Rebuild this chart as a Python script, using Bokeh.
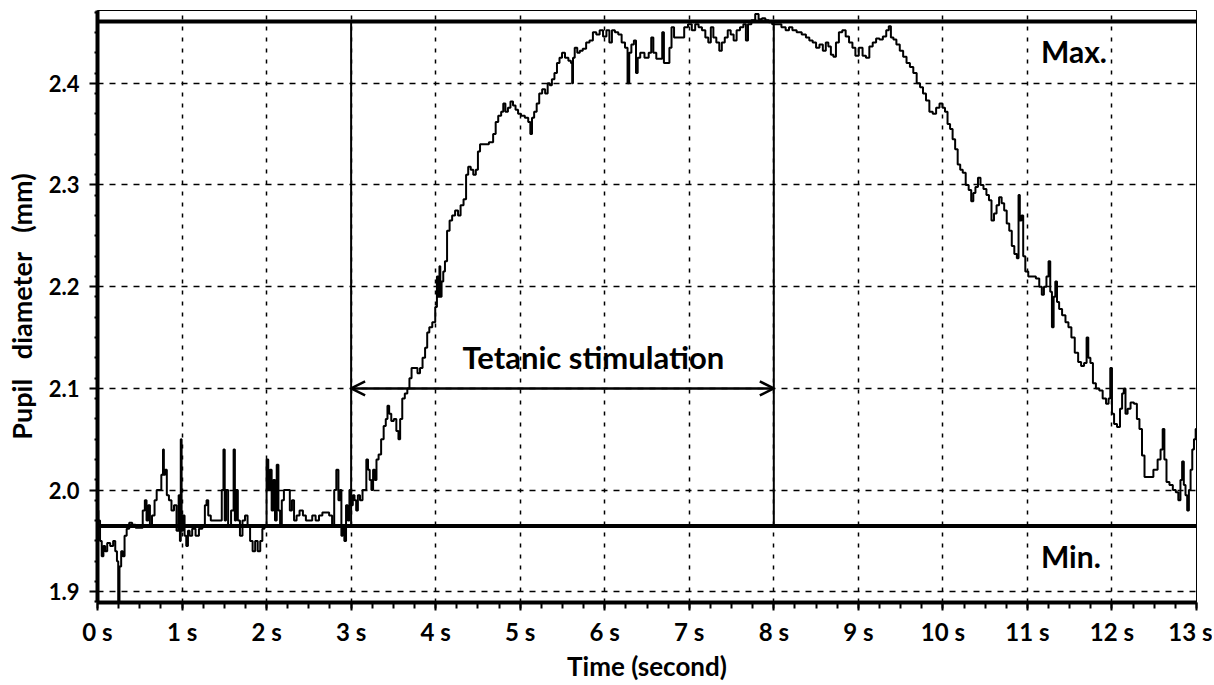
from bokeh.plotting import figure
from bokeh.models import Range1d, FixedTicker, Span, Arrow, OpenHead, Label
from bokeh.embed import file_html
from bokeh.resources import INLINE

# ---------------- data ----------------
# (time in s, pupil diameter in mm)
baseline = [
    (0.00, 1.98), (0.02, 1.97), (0.04, 1.95), (0.06, 1.935), (0.08, 1.945), (0.10, 1.94),
    (0.13, 1.948), (0.17, 1.945), (0.20, 1.95), (0.22, 1.94), (0.24, 1.93), (0.25, 1.89),
    (0.27, 1.925), (0.29, 1.94), (0.31, 1.935), (0.33, 1.955), (0.36, 1.962), (0.39, 1.968),
    (0.43, 1.966), (0.47, 1.963), (0.52, 1.963), (0.55, 1.98), (0.57, 1.99), (0.59, 1.97),
    (0.61, 1.985), (0.63, 1.965), (0.66, 1.975), (0.69, 1.99), (0.71, 2.0), (0.74, 2.0),
    (0.77, 2.015), (0.78, 2.04), (0.79, 2.015), (0.81, 2.02), (0.83, 1.995), (0.86, 1.99),
    (0.89, 1.98), (0.92, 1.985), (0.95, 1.96), (0.97, 1.995), (0.98, 1.95), (0.99, 2.05),
    (1.00, 1.96), (1.02, 1.975), (1.04, 1.955), (1.06, 1.945), (1.08, 1.96), (1.10, 1.955),
    (1.14, 1.962), (1.18, 1.955), (1.22, 1.962), (1.26, 1.965), (1.28, 1.985), (1.30, 1.99),
    (1.32, 1.975), (1.36, 1.97), (1.40, 1.97), (1.46, 1.97), (1.48, 2.0), (1.50, 2.04),
    (1.51, 1.97), (1.53, 2.0), (1.56, 1.965), (1.60, 1.98), (1.62, 2.04), (1.63, 1.97),
    (1.65, 2.0), (1.67, 1.97), (1.70, 1.955), (1.73, 1.97), (1.76, 1.975), (1.79, 1.965),
    (1.82, 1.95), (1.85, 1.94), (1.88, 1.95), (1.91, 1.94), (1.94, 1.95), (1.96, 1.962),
    (1.99, 1.965), (2.01, 2.03), (2.03, 2.0), (2.05, 2.02), (2.07, 1.98), (2.09, 2.01),
    (2.11, 1.97), (2.13, 2.025), (2.15, 1.98), (2.17, 1.965), (2.19, 1.99), (2.22, 2.0),
    (2.26, 2.0), (2.29, 1.98), (2.31, 1.99), (2.34, 1.97), (2.37, 1.975), (2.41, 1.98),
    (2.45, 1.975), (2.48, 1.97), (2.52, 1.97), (2.56, 1.975), (2.60, 1.97), (2.64, 1.975),
    (2.68, 1.978), (2.72, 1.978), (2.76, 1.975), (2.79, 1.965), (2.81, 2.0), (2.84, 2.02),
    (2.86, 1.99), (2.88, 2.0), (2.89, 1.955), (2.91, 1.965), (2.93, 1.95), (2.95, 1.985),
    (2.97, 1.97), (2.99, 2.0), (3.01, 1.985), (3.03, 1.995),
]

rise = [
    (3.05, 1.99), (3.07, 1.98), (3.09, 1.995), (3.12, 1.99), (3.15, 2.0), (3.17, 2.0),
    (3.19, 2.03), (3.21, 2.02), (3.23, 2.01), (3.25, 2.0), (3.27, 2.02), (3.29, 2.01),
    (3.31, 2.03), (3.34, 2.035), (3.37, 2.05), (3.40, 2.063), (3.42, 2.07), (3.44, 2.083),
    (3.46, 2.075), (3.49, 2.068), (3.52, 2.07), (3.55, 2.058), (3.57, 2.05), (3.59, 2.07),
    (3.62, 2.09), (3.65, 2.095), (3.68, 2.10), (3.70, 2.11), (3.73, 2.12), (3.77, 2.12),
    (3.80, 2.115), (3.83, 2.12), (3.86, 2.13), (3.89, 2.14), (3.91, 2.155), (3.94, 2.16),
    (3.98, 2.165), (4.01, 2.18), (4.02, 2.21), (4.04, 2.19), (4.05, 2.22), (4.06, 2.19),
    (4.08, 2.205), (4.10, 2.215), (4.12, 2.225), (4.15, 2.255), (4.18, 2.265), (4.21, 2.27),
    (4.25, 2.275), (4.28, 2.27), (4.31, 2.28), (4.35, 2.286), (4.37, 2.31), (4.40, 2.318),
    (4.43, 2.315), (4.46, 2.31), (4.49, 2.315), (4.51, 2.333), (4.54, 2.34), (4.60, 2.34),
    (4.66, 2.342), (4.70, 2.35), (4.72, 2.362), (4.76, 2.368), (4.79, 2.372), (4.81, 2.38),
    (4.84, 2.372), (4.87, 2.376), (4.90, 2.382), (4.93, 2.378), (4.96, 2.374), (4.99, 2.37),
    (5.03, 2.368), (5.08, 2.366), (5.11, 2.362), (5.13, 2.35), (5.15, 2.366), (5.18, 2.372),
    (5.21, 2.38), (5.24, 2.39), (5.28, 2.394), (5.31, 2.39), (5.34, 2.40), (5.36, 2.398),
    (5.39, 2.404), (5.42, 2.41), (5.45, 2.42), (5.48, 2.425), (5.51, 2.43), (5.55, 2.425),
    (5.59, 2.422), (5.61, 2.42), (5.62, 2.40), (5.63, 2.425), (5.66, 2.435), (5.69, 2.43),
    (5.72, 2.432), (5.76, 2.434), (5.80, 2.44), (5.84, 2.442), (5.88, 2.45), (5.92, 2.448),
]

plateau = [
    (5.96, 2.452), (6.00, 2.446), (6.04, 2.452), (6.07, 2.44), (6.10, 2.452), (6.14, 2.45),
    (6.18, 2.448), (6.22, 2.44), (6.26, 2.435), (6.28, 2.40), (6.30, 2.43), (6.33, 2.438),
    (6.36, 2.442), (6.38, 2.41), (6.40, 2.425), (6.44, 2.43), (6.50, 2.425), (6.54, 2.43),
    (6.56, 2.445), (6.59, 2.43), (6.63, 2.424), (6.67, 2.424), (6.69, 2.45), (6.71, 2.42),
    (6.75, 2.42), (6.78, 2.435), (6.80, 2.455), (6.84, 2.445), (6.88, 2.445), (6.92, 2.445),
    (6.96, 2.455), (7.01, 2.458), (7.05, 2.452), (7.09, 2.458), (7.13, 2.455), (7.17, 2.452),
    (7.21, 2.445), (7.24, 2.44), (7.27, 2.455), (7.30, 2.445), (7.34, 2.44), (7.37, 2.432),
    (7.40, 2.44), (7.44, 2.445), (7.47, 2.452), (7.51, 2.448), (7.54, 2.442), (7.58, 2.452),
    (7.62, 2.455), (7.66, 2.458), (7.68, 2.442), (7.71, 2.458), (7.76, 2.462), (7.80, 2.468),
    (7.84, 2.463), (7.88, 2.464), (7.92, 2.462), (7.96, 2.46), (8.00, 2.458), (8.06, 2.458),
    (8.12, 2.455), (8.16, 2.452), (8.20, 2.455), (8.24, 2.452), (8.30, 2.45), (8.36, 2.448),
    (8.40, 2.445), (8.44, 2.442), (8.48, 2.44), (8.52, 2.435), (8.56, 2.438), (8.60, 2.432),
    (8.63, 2.44), (8.66, 2.436), (8.69, 2.428), (8.72, 2.426), (8.75, 2.44), (8.79, 2.45),
    (8.83, 2.452), (8.87, 2.446), (8.91, 2.44), (8.95, 2.435), (8.98, 2.427), (9.03, 2.435),
    (9.07, 2.427), (9.11, 2.425), (9.15, 2.436), (9.19, 2.44), (9.23, 2.444), (9.27, 2.443),
    (9.31, 2.446), (9.35, 2.452), (9.37, 2.456),
]

decay = [
    (9.40, 2.445), (9.43, 2.443), (9.47, 2.438), (9.51, 2.432), (9.55, 2.426), (9.59, 2.42),
    (9.63, 2.416), (9.67, 2.41), (9.71, 2.40), (9.75, 2.396), (9.78, 2.39), (9.82, 2.383),
    (9.86, 2.372), (9.90, 2.37), (9.94, 2.376), (9.98, 2.38), (10.01, 2.376), (10.04, 2.372),
    (10.07, 2.36), (10.10, 2.355), (10.13, 2.345), (10.16, 2.335), (10.19, 2.32), (10.22, 2.315),
    (10.25, 2.312), (10.29, 2.30), (10.32, 2.295), (10.35, 2.284), (10.37, 2.292), (10.40, 2.298),
    (10.43, 2.307), (10.46, 2.30), (10.50, 2.296), (10.53, 2.29), (10.56, 2.285), (10.59, 2.265),
    (10.62, 2.272), (10.65, 2.28), (10.68, 2.288), (10.71, 2.282), (10.74, 2.275), (10.77, 2.262),
    (10.80, 2.255), (10.83, 2.24), (10.86, 2.232), (10.89, 2.228), (10.90, 2.29), (10.92, 2.265),
    (10.94, 2.27), (10.96, 2.23), (10.99, 2.215), (11.03, 2.21), (11.08, 2.21), (11.12, 2.208),
    (11.16, 2.20), (11.18, 2.192), (11.21, 2.20), (11.24, 2.21), (11.26, 2.225), (11.28, 2.195),
    (11.30, 2.16), (11.32, 2.19), (11.34, 2.205), (11.36, 2.185), (11.39, 2.178), (11.43, 2.172),
    (11.47, 2.165), (11.50, 2.16), (11.54, 2.15), (11.58, 2.135), (11.62, 2.126), (11.65, 2.122),
    (11.69, 2.125), (11.71, 2.15), (11.73, 2.13), (11.76, 2.125), (11.79, 2.105), (11.83, 2.10),
    (11.87, 2.098), (11.91, 2.09), (11.95, 2.085), (11.97, 2.09), (11.99, 2.12), (12.01, 2.075),
    (12.04, 2.065), (12.08, 2.062), (12.11, 2.08), (12.13, 2.095), (12.15, 2.10), (12.17, 2.075),
    (12.20, 2.08), (12.24, 2.086), (12.28, 2.085), (12.31, 2.07), (12.34, 2.06), (12.37, 2.034),
    (12.40, 2.013), (12.46, 2.013), (12.52, 2.02), (12.56, 2.03), (12.59, 2.04), (12.61, 2.06),
    (12.63, 2.03), (12.66, 2.008), (12.70, 2.005), (12.74, 2.0), (12.77, 1.998), (12.80, 1.99),
    (12.82, 2.01), (12.84, 2.028), (12.86, 2.005), (12.88, 1.995), (12.90, 1.98), (12.92, 2.0),
    (12.94, 2.02), (12.96, 2.04), (12.98, 2.05), (13.00, 2.06),
]

x_ticks = [0, 1, 2, 3, 4, 5, 6, 7, 8, 9, 10, 11, 12, 13]
x_tick_labels = ["0 s", "1 s", "2 s", "3 s", "4 s", "5 s", "6 s", "7 s",
                 "8 s", "9 s", "10 s", "11 s", "12 s", "13 s"]
y_ticks = [1.9, 2.0, 2.1, 2.2, 2.3, 2.4]
y_tick_labels = ["1.9", "2.0", "2.1", "2.2", "2.3", "2.4"]

max_diameter = 2.4607
min_diameter = 1.9646
stim_start = 3
stim_end = 8
stim_level = 2.1

trace = baseline + rise + plateau + decay
times = [t for t, _ in trace]
diameters = [v for _, v in trace]

# ---------------- figure ----------------
p = figure(width=1212, height=684,
           x_range=Range1d(0, 13), y_range=Range1d(1.8895, 2.4715),
           output_backend="svg", toolbar_location=None,
           min_border_left=97, min_border_right=16,
           min_border_top=10, min_border_bottom=81,
           background_fill_color="white", border_fill_color="white")
p.outline_line_color = "black"
p.outline_line_width = 1

FONT = "Lato"

x_minor = [i * 0.25 for i in range(0, 53)]
y_minor = [1.89 + i * 0.02 for i in range(0, 30)]

p.xaxis.ticker = FixedTicker(ticks=x_ticks, minor_ticks=x_minor)
p.yaxis.ticker = FixedTicker(ticks=y_ticks, minor_ticks=y_minor)
p.xaxis.major_label_overrides = {t: lab for t, lab in zip(x_ticks, x_tick_labels)}
p.yaxis.major_label_overrides = {t: lab for t, lab in zip(y_ticks, y_tick_labels)}

for ax in (p.xaxis[0], p.yaxis[0]):
    ax.axis_line_color = "black"
    ax.axis_line_width = 4
    ax.major_tick_line_color = "black"
    ax.major_tick_line_width = 2
    ax.major_tick_out = 8
    ax.major_tick_in = 0
    ax.minor_tick_line_color = "black"
    ax.minor_tick_line_width = 2
    ax.minor_tick_in = 0
    ax.major_label_text_color = "black"
    ax.axis_label_text_color = "black"
    ax.axis_label_text_font = FONT
    ax.axis_label_text_font_style = "bold"
    ax.major_label_text_font = FONT
    ax.major_label_text_font_style = "bold"

p.xaxis.minor_tick_out = 6
p.yaxis.minor_tick_out = 3
p.xaxis.major_label_text_font_size = "24px"
p.xaxis.major_label_standoff = 6
p.xaxis.axis_label = "Time (second)"
p.xaxis.axis_label_text_font_size = "26px"
p.xaxis.axis_label_standoff = 1

p.yaxis.major_label_text_font_size = "22px"
p.yaxis.major_label_standoff = 10
p.yaxis.axis_label = "Pupil\u00a0\u00a0 diameter\u00a0\u00a0 (mm)"
p.yaxis.axis_label_text_font_size = "27px"
p.yaxis.axis_label_standoff = 8

p.xgrid.ticker = FixedTicker(ticks=x_ticks)
p.ygrid.ticker = FixedTicker(ticks=y_ticks)
p.xgrid.grid_line_color = "black"
p.xgrid.grid_line_width = 1.5
p.xgrid.grid_line_dash = "4 7"
p.ygrid.grid_line_color = "black"
p.ygrid.grid_line_width = 1.5
p.ygrid.grid_line_dash = "6 6"

# stimulation boundaries
p.segment(x0=[stim_start, stim_end], y0=[min_diameter, min_diameter],
          x1=[stim_start, stim_end], y1=[max_diameter, max_diameter],
          line_color="black", line_width=2)

# trace
p.step(times, diameters, mode="center", line_color="black", line_width=2)

# max / min lines
p.add_layout(Span(location=max_diameter, dimension="width",
                  line_color="black", line_width=4))
p.add_layout(Span(location=min_diameter, dimension="width",
                  line_color="black", line_width=4))

# double arrow
p.add_layout(Arrow(start=OpenHead(size=14, line_width=2.5, line_color="black"),
                   end=OpenHead(size=14, line_width=2.5, line_color="black"),
                   x_start=stim_start, y_start=stim_level,
                   x_end=stim_end, y_end=stim_level,
                   line_color="black", line_width=2.5))

p.add_layout(Label(x=5.865, y=2.131, text="Tetanic stimulation",
                   text_align="center", text_baseline="middle",
                   text_font=FONT, text_font_style="bold",
                   text_font_size="31px", text_color="black"))
p.add_layout(Label(x=11.16, y=2.432, text="Max.",
                   text_align="left", text_baseline="middle",
                   text_font=FONT, text_font_style="bold",
                   text_font_size="30px", text_color="black"))
p.add_layout(Label(x=11.16, y=1.935, text="Min.",
                   text_align="left", text_baseline="middle",
                   text_font=FONT, text_font_style="bold",
                   text_font_size="30px", text_color="black"))

open("out.html", "w").write(file_html(p, INLINE))
